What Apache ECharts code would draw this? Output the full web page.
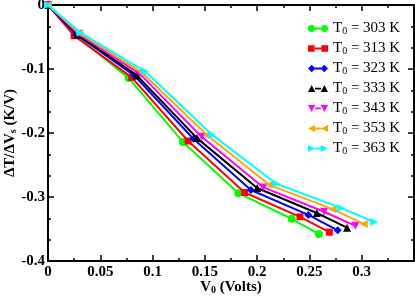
<!DOCTYPE html>
<html>
<head>
<meta charset="utf-8">
<script src="https://cdn.jsdelivr.net/npm/echarts@6/dist/echarts.min.js"></script>
<style>html,body{margin:0;padding:0;background:#fff}#c{width:415px;height:297px}</style>
</head>
<body>
<div id="c"></div>
<script>
const temperatures = [303, 313, 323, 333, 343, 353, 363];
const colors = ['#00ff00', '#ff0000', '#0000ff', '#000000', '#ff00ff', '#ffa500', '#00ffff'];
const v0_T303 = [0, 0.026, 0.077, 0.129, 0.182, 0.233, 0.259];
const r_T303  = [0, -0.047, -0.114, -0.214, -0.294, -0.334, -0.358];
const v0_T313 = [0, 0.025, 0.080, 0.134, 0.188, 0.241, 0.269];
const r_T313  = [0, -0.048, -0.113, -0.2125, -0.293, -0.331, -0.355];
const v0_T323 = [0, 0.027, 0.083, 0.139, 0.194, 0.249, 0.277];
const r_T323  = [0, -0.046, -0.111, -0.209, -0.289, -0.328, -0.352];
const v0_T333 = [0, 0.028, 0.085, 0.1425, 0.200, 0.257, 0.286];
const r_T333  = [0, -0.046, -0.110, -0.208, -0.286, -0.325, -0.348];
const v0_T343 = [0, 0.029, 0.088, 0.147, 0.206, 0.264, 0.294];
const r_T343  = [0, -0.045, -0.108, -0.206, -0.285, -0.323, -0.345];
const v0_T353 = [0, 0.030, 0.090, 0.152, 0.2115, 0.272, 0.302];
const r_T353  = [0, -0.044, -0.106, -0.203, -0.281, -0.319, -0.342];
const v0_T363 = [0, 0.031, 0.093, 0.157, 0.218, 0.280, 0.312];
const r_T363  = [0, -0.043, -0.104, -0.203, -0.279, -0.317, -0.339];

const xs = [v0_T303, v0_T313, v0_T323, v0_T333, v0_T343, v0_T353, v0_T363];
const ys = [r_T303, r_T313, r_T323, r_T333, r_T343, r_T353, r_T363];
const symbols = ['circle', 'rect', 'diamond', 'triangle', 'triangle', 'triangle', 'triangle'];
const rotations = [0, 0, 0, 0, 180, 90, -90];

// legend icons: line with a marker at each end (200x80 box)
const markerPaths = {
  circle: c => `M${c-32},40 A32,32 0 1,1 ${c+32},40 A32,32 0 1,1 ${c-32},40 Z`,
  rect: c => `M${c-30},10 L${c+30},10 L${c+30},70 L${c-30},70 Z`,
  diamond: c => `M${c},4 L${c+36},40 L${c},76 L${c-36},40 Z`,
  up: c => `M${c},6 L${c+34},72 L${c-34},72 Z`,
  down: c => `M${c-34},8 L${c+34},8 L${c},74 Z`,
  left: c => `M${c-34},40 L${c+34},6 L${c+34},74 Z`,
  right: c => `M${c-34},6 L${c+34},40 L${c-34},74 Z`
};
const iconKeys = ['circle', 'rect', 'diamond', 'up', 'down', 'left', 'right'];
function iconPath(k) {
  const m = markerPaths[k];
  return 'path://' + m(40) + ' M72,31 L128,31 L128,49 L72,49 Z ' + m(160);
}

const font = 'Liberation Serif';
const series = temperatures.map((t, i) => ({
  name: 'T' + t,
  type: 'line',
  data: xs[i].map((x, j) => [x, ys[i][j]]),
  symbol: symbols[i],
  symbolRotate: rotations[i],
  symbolSize: symbols[i] === 'rect' ? 7 : 8,
  showAllSymbol: true,
  color: colors[i],
  lineStyle: { width: 2, color: colors[i] },
  itemStyle: { color: colors[i] },
  animation: false,
  z: 2 + i
}));

const chart = echarts.init(document.getElementById('c'), null, { renderer: 'canvas' });
const axisCommon = {
  axisLine: { show: true, onZero: false, lineStyle: { color: '#000', width: 2 } },
  axisTick: { inside: true, length: 6, lineStyle: { color: '#000', width: 1.5 } },
  minorTick: { show: true, length: 3, lineStyle: { color: '#000', width: 1.5 } },
  splitLine: { show: false }
};
const nameRich = {
  b: { fontFamily: font, fontWeight: 'bold', fontSize: 15, color: '#000', lineHeight: 15, verticalAlign: 'top' },
  s: { fontFamily: font, fontWeight: 'bold', fontSize: 10, color: '#000', lineHeight: 10, padding: [10, 0, 0, 0], verticalAlign: 'bottom' }
};
chart.setOption({
  backgroundColor: '#fff',
  animation: false,
  grid: { left: 48, top: 5, right: 1, bottom: 36, containLabel: false, outerBoundsMode: 'none' },
  legend: {
    orient: 'vertical',
    left: 308,
    top: 16,
    itemWidth: 20,
    itemHeight: 8,
    itemGap: 0,
    padding: 0,
    data: temperatures.map((t, i) => ({ name: 'T' + t, icon: iconPath(iconKeys[i]) })),
    formatter: n => '{m|T}{s|0}{m| = ' + n.slice(1) + ' K}',
    textStyle: {
      fontFamily: font,
      color: '#000',
      rich: {
        m: { fontFamily: font, fontSize: 15, color: '#000', lineHeight: 15, verticalAlign: 'top' },
        s: { fontFamily: font, fontSize: 10, color: '#000', lineHeight: 10, padding: [10, 0, 0, 0], verticalAlign: 'bottom' }
      }
    }
  },
  xAxis: [
    Object.assign({}, axisCommon, {
      type: 'value', min: 0, max: 0.35, interval: 0.05,
      minorTick: Object.assign({}, axisCommon.minorTick, { splitNumber: 2 }),
      axisLabel: {
        showMaxLabel: false, margin: 4, fontFamily: font, fontWeight: 'bold', fontSize: 15, color: '#000',
        formatter: v => String(+v.toFixed(2))
      },
      name: '{b|V}{s|0}{b| (Volts)}',
      nameLocation: 'middle',
      nameMoveOverlap: false,
      nameGap: 19,
      nameTextStyle: { rich: nameRich }
    }),
    Object.assign({}, axisCommon, {
      type: 'value', min: 0, max: 0.35, interval: 0.05, position: 'top',
      minorTick: Object.assign({}, axisCommon.minorTick, { splitNumber: 2 }),
      axisLabel: { show: false }
    })
  ],
  yAxis: [
    Object.assign({}, axisCommon, {
      type: 'value', min: -0.4, max: 0, interval: 0.1,
      minorTick: Object.assign({}, axisCommon.minorTick, { splitNumber: 3 }),
      axisLabel: {
        margin: 3, fontFamily: font, fontWeight: 'bold', fontSize: 15, color: '#000',
        formatter: v => String(+v.toFixed(2))
      },
      name: '{b|ΔT/ΔV}{s|s}{b| (K/V)}',
      nameLocation: 'middle',
      nameRotate: 90,
      nameMoveOverlap: false,
      nameGap: 30,
      nameTextStyle: { rich: nameRich }
    }),
    Object.assign({}, axisCommon, {
      type: 'value', min: -0.4, max: 0, interval: 0.1, position: 'right',
      minorTick: Object.assign({}, axisCommon.minorTick, { splitNumber: 3 }),
      axisLabel: { show: false }
    })
  ],
  series: series
});
</script>
</body>
</html>
